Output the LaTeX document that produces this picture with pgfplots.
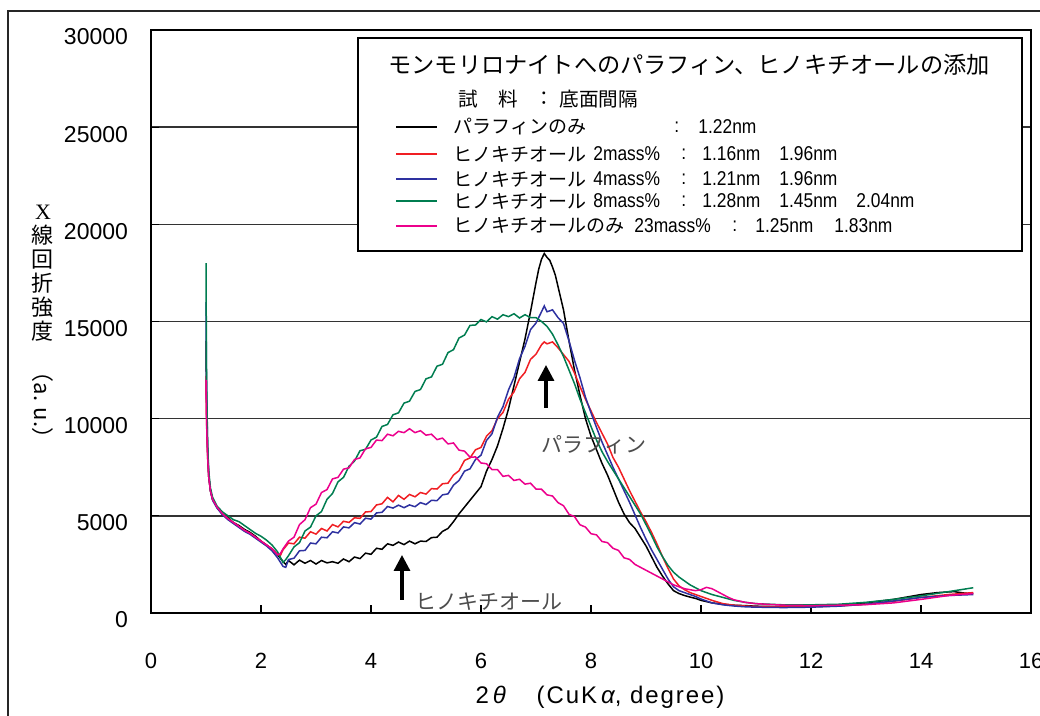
\documentclass[border=0pt]{standalone}
\usepackage{fontspec}
\usepackage{pgfplots}
\pgfplotsset{compat=1.18}
\usetikzlibrary{arrows.meta}
\setmainfont{Liberation Sans}
\newfontfamily\cjk{Noto Sans CJK JP}
\newfontfamily\nar[FakeStretch=0.87]{Liberation Sans}
\newfontfamily\serifx{Liberation Serif}
\newfontfamily\xlab[LetterSpace=8]{Liberation Sans}
\definecolor{cred}{RGB}{240,30,35}
\definecolor{cblue}{RGB}{46,49,160}
\definecolor{cgreen}{RGB}{0,125,80}
\definecolor{cmag}{RGB}{236,0,140}
\begin{document}
\begin{tikzpicture}
\begin{axis}[
  at={(75.5pt,-306.5pt)}, anchor=south west,
  scale only axis, width=440pt, height=291.5pt,
  xmin=0, xmax=16, ymin=0, ymax=30000,
  xtick={0,2,...,16}, ytick={0,5000,...,30000},
  xtick pos=bottom, ytick pos=left,
  tick align=inside, major tick length=4pt,
  ymajorgrids, grid style={black!80, line width=0.8pt},
  axis line style={line width=0.8pt},
  tick style={black, line width=0.6pt},
  scaled y ticks=false,
  /pgf/number format/assume math mode=true,
  yticklabel style={/pgf/number format/fixed, /pgf/number format/1000 sep={}, font=\fontsize{11.5}{13}\selectfont, xshift=-8pt, yshift=-3.5pt},
  xticklabel style={font=\fontsize{11}{13}\selectfont, yshift=-16.5pt},
  xlabel={\xlab\fontsize{12}{14}\selectfont 2\,\textit{θ}\hspace{1.2em}(CuK\,\textit{α}, degree)},
  xlabel style={yshift=-2pt, xshift=4.5pt},
  clip=true,
  every axis plot/.append style={line width=0.75pt},
]
\addplot[black] table {
1.00 14000
1.01 10500
1.03 8200
1.05 7000
1.08 6300
1.12 5850
1.2 5450
1.3 5100
1.4 4900
1.5 4650
1.6 4500
1.7 4300
1.8 4150
1.9 3950
2.0 3700
2.1 3500
2.2 3300
2.3 3000
2.4 2650
2.45 2500
2.5 2700
2.6 2480
2.7 2720
2.8 2560
2.9 2700
3.0 2520
3.1 2700
3.2 2580
3.3 2640
3.4 2560
3.5 2780
3.6 2640
3.7 2880
3.8 2800
3.9 3080
4.0 3020
4.1 3330
4.2 3280
4.3 3560
4.4 3480
4.5 3650
4.6 3520
4.7 3700
4.8 3560
4.9 3700
5.0 3680
5.1 3880
5.2 3900
5.3 4200
5.4 4350
5.5 4700
5.6 5100
5.7 5450
5.8 5800
5.9 6150
6.0 6500
6.1 7300
6.2 7900
6.3 8600
6.4 9500
6.5 10500
6.6 11700
6.7 12900
6.8 14100
6.9 15500
7.0 17000
7.05 17700
7.1 18200
7.15 18500
7.2 18300
7.25 18150
7.3 17800
7.35 17400
7.4 16800
7.5 15600
7.6 14000
7.7 12500
7.8 11200
7.9 10000
8.0 9100
8.1 8400
8.2 7700
8.3 7100
8.4 6400
8.5 5700
8.6 5100
8.7 4650
8.8 4350
8.9 3900
9.0 3450
9.1 2900
9.2 2350
9.3 1900
9.4 1500
9.5 1150
9.6 1000
9.7 900
9.8 820
9.9 750
10.0 650
10.2 520
10.4 450
10.6 400
10.8 380
11.0 350
11.5 320
12.0 330
12.5 380
13.0 520
13.5 700
14.0 950
14.3 1050
14.6 1100
14.8 1020
14.95 1000
};
\addplot[cred] table {
1.00 12200
1.01 10000
1.03 8000
1.05 7000
1.08 6300
1.12 5850
1.2 5450
1.3 5100
1.4 4850
1.5 4650
1.6 4450
1.7 4250
1.8 4100
1.9 3900
2.0 3700
2.1 3500
2.2 3300
2.3 3000
2.35 2950
2.4 3250
2.5 3600
2.6 3560
2.7 3900
2.8 3850
2.9 4180
3.0 4060
3.1 4350
3.2 4220
3.3 4550
3.4 4430
3.5 4720
3.6 4660
3.7 4900
3.8 4870
3.9 5200
4.0 5220
4.1 5560
4.2 5620
4.3 5950
4.4 5720
4.5 6050
4.6 5850
4.7 6100
4.8 5980
4.9 6200
5.0 6120
5.1 6400
5.2 6380
5.3 6650
5.4 6680
5.5 7100
5.6 7320
5.7 7850
5.8 7980
5.9 8400
6.0 8520
6.1 9100
6.2 9380
6.3 10000
6.4 10320
6.5 11000
6.6 11380
6.7 12050
6.8 12380
6.9 13050
7.0 13320
7.1 13800
7.15 13950
7.2 13850
7.3 13950
7.4 13650
7.5 13300
7.6 12950
7.7 12350
7.8 11650
7.9 11000
8.0 10400
8.1 9800
8.2 9250
8.3 8700
8.4 8000
8.5 7500
8.6 6900
8.7 6300
8.8 5750
8.9 5200
9.0 4700
9.1 4150
9.2 3550
9.3 2900
9.4 2300
9.5 1750
9.6 1400
9.7 1200
9.8 1050
9.9 950
10.0 850
10.2 650
10.4 480
10.6 400
10.8 360
11.0 330
11.5 320
12.0 330
12.5 360
13.0 450
13.5 600
14.0 800
14.5 950
14.95 1050
};
\addplot[cblue] table {
1.00 16000
1.01 11500
1.03 8500
1.05 7100
1.08 6300
1.12 5800
1.2 5400
1.3 5050
1.4 4800
1.5 4600
1.6 4400
1.7 4200
1.8 4050
1.9 3850
2.0 3650
2.1 3450
2.2 3200
2.3 2850
2.4 2400
2.45 2350
2.5 2750
2.6 2820
2.7 3200
2.8 3220
2.9 3600
3.0 3560
3.1 3900
3.2 3870
3.3 4180
3.4 4120
3.5 4430
3.6 4380
3.7 4650
3.8 4580
3.9 4880
4.0 4830
4.1 5150
4.2 5180
4.3 5480
4.4 5400
4.5 5550
4.6 5420
4.7 5560
4.8 5470
4.9 5680
5.0 5580
5.1 5800
5.2 5780
5.3 6080
5.4 6130
5.5 6580
5.6 6820
5.7 7300
5.8 7420
5.9 7900
6.0 8120
6.1 8880
6.2 9220
6.3 10080
6.4 10620
6.5 11480
6.6 12120
6.7 13080
6.8 13720
6.9 14580
7.0 14920
7.1 15500
7.15 15800
7.2 15500
7.3 15600
7.4 15200
7.5 14900
7.6 14000
7.7 13000
7.8 12100
7.9 11100
8.0 10300
8.1 9550
8.2 8800
8.3 8150
8.4 7500
8.5 6900
8.6 6300
8.7 5700
8.8 5050
8.9 4400
9.0 3800
9.1 3250
9.2 2750
9.3 2250
9.4 1750
9.5 1350
9.6 1150
9.7 1050
9.8 950
9.9 850
10.0 720
10.2 520
10.4 420
10.6 360
10.8 320
11.0 300
11.5 280
12.0 300
12.5 350
13.0 450
13.5 620
14.0 800
14.5 900
14.95 950
};
\addplot[cgreen] table {
1.00 18000
1.01 12000
1.03 8600
1.05 7300
1.08 6450
1.12 5950
1.2 5500
1.3 5200
1.4 5000
1.5 4800
1.6 4700
1.7 4500
1.8 4300
1.9 4100
2.0 3950
2.1 3750
2.2 3500
2.3 3150
2.4 2600
2.45 2750
2.5 2950
2.6 3400
2.7 3620
2.8 4220
2.9 4420
3.0 5000
3.1 5220
3.2 5850
3.3 6150
3.4 6750
3.5 6980
3.6 7550
3.7 7820
3.8 8350
3.9 8420
4.0 8900
4.1 9050
4.2 9600
4.3 9700
4.4 10200
4.5 10300
4.6 10800
4.7 10900
4.8 11400
4.9 11500
5.0 12050
5.1 12150
5.2 12700
5.3 12800
5.4 13400
5.5 13550
5.6 14150
5.7 14300
5.8 14800
5.9 14820
6.0 15100
6.1 14980
6.2 15250
6.3 15120
6.4 15350
6.5 15250
6.6 15400
6.7 15180
6.8 15350
6.9 15200
7.0 15200
7.1 15000
7.2 14750
7.3 14350
7.4 13800
7.5 13200
7.6 12500
7.7 11800
7.8 11000
7.9 10300
8.0 9600
8.1 8900
8.2 8300
8.3 7800
8.4 7350
8.5 6900
8.6 6450
8.7 6000
8.8 5550
8.9 5100
9.0 4550
9.1 4000
9.2 3400
9.3 2900
9.4 2450
9.5 2100
9.6 1850
9.7 1650
9.8 1450
9.9 1300
10.0 1150
10.2 950
10.4 800
10.6 650
10.8 550
11.0 480
11.5 420
12.0 420
12.5 450
13.0 550
13.5 700
14.0 880
14.5 1100
14.95 1300
};
\addplot[cmag] table {
1.00 12000
1.01 9800
1.03 8000
1.05 7000
1.08 6300
1.12 5850
1.2 5450
1.3 5100
1.4 4850
1.5 4650
1.6 4450
1.7 4250
1.8 4100
1.9 3900
2.0 3700
2.1 3500
2.2 3300
2.3 3000
2.35 3050
2.4 3300
2.5 3700
2.6 3900
2.7 4550
2.8 4800
2.9 5420
3.0 5600
3.1 6200
3.2 6350
3.3 6900
3.4 6980
3.5 7400
3.6 7470
3.7 7900
3.8 7980
3.9 8450
4.0 8520
4.1 8900
4.2 8870
4.3 9200
4.4 9120
4.5 9350
4.6 9280
4.7 9480
4.8 9280
4.9 9380
5.0 9150
5.1 9200
5.2 8920
5.3 9000
5.4 8700
5.5 8750
5.6 8380
5.7 8330
5.8 8020
5.9 8030
6.0 7720
6.1 7680
6.2 7380
6.3 7380
6.4 7030
6.5 7080
6.6 6820
6.7 6880
6.8 6630
6.9 6680
7.0 6380
7.1 6370
7.2 6080
7.3 6020
7.4 5680
7.5 5520
7.6 5080
7.7 4960
7.8 4540
7.9 4420
8.0 4080
8.1 4020
8.2 3680
8.3 3620
8.4 3330
8.5 3220
8.6 2840
8.7 2760
8.8 2500
8.9 2350
9.0 2200
9.1 2050
9.2 1900
9.3 1750
9.4 1600
9.5 1450
9.6 1350
9.7 1250
9.8 1200
9.9 1150
10.0 1200
10.1 1320
10.2 1250
10.3 1100
10.4 950
10.5 800
10.6 680
10.8 550
11.0 480
11.5 400
12.0 380
12.5 400
13.0 430
13.5 520
14.0 700
14.5 900
14.95 1000
};
\end{axis}
\begin{scope}[x=0.5pt,y=-0.5pt]
% outer frame
\draw[line width=1pt, black!85] (8,716) -- (8,11) -- (1040,11);
% y label
\node[anchor=north, align=center, inner sep=0pt, font=\cjk\fontsize{11}{12}\selectfont] at (43,205) {{\serifx X}\\線\\回\\折\\強\\度};
\node[rotate=-90, inner sep=0pt, font=\cjk\fontsize{11}{12}\selectfont] at (43,405) {（a. u.）};
% legend box
\draw[line width=0.8pt, fill=white] (358,38) rectangle (1022,251);
\node[anchor=west, inner sep=0pt, font=\cjk\fontsize{11.6}{13}\selectfont] at (388,65) {モンモリロナイトへのパラフィン、ヒノキチオールの添加};
\begin{scope}[every node/.style={anchor=west, inner sep=0pt, font=\cjk\fontsize{9.8}{12}\selectfont}]
\node at (458,99) {試};
\node at (498,99) {料};
\node at (534,99) {：};
\node at (559,99) {底面間隔};
\draw[black, line width=0.8pt] (396,127) -- (437,127);
\draw[cred, line width=0.8pt] (396,154) -- (437,154);
\draw[cblue, line width=0.8pt] (396,179) -- (437,179);
\draw[cgreen, line width=0.8pt] (396,201) -- (437,201);
\draw[cmag, line width=0.8pt] (396,226) -- (437,226);
\node[font=\cjk\fontsize{9.5}{12}\selectfont] at (453,127) {パラフィンのみ};
\node[font=\cjk\fontsize{9.5}{12}\selectfont] at (453,154) {ヒノキチオール};
\node[font=\cjk\fontsize{9.5}{12}\selectfont] at (453,179) {ヒノキチオール};
\node[font=\cjk\fontsize{9.5}{12}\selectfont] at (453,201) {ヒノキチオール};
\node[font=\cjk\fontsize{9.5}{12}\selectfont] at (453,226) {ヒノキチオールのみ};
\node[font=\nar\fontsize{10}{12}\selectfont] at (593,154) {2mass\%};
\node[font=\nar\fontsize{10}{12}\selectfont] at (593,179) {4mass\%};
\node[font=\nar\fontsize{10}{12}\selectfont] at (593,201) {8mass\%};
\node[font=\nar\fontsize{10}{12}\selectfont] at (634,226) {23mass\%};
\node[font=\nar\fontsize{10}{12}\selectfont] at (674,127) {:};
\node[font=\nar\fontsize{10}{12}\selectfont] at (681,154) {:};
\node[font=\nar\fontsize{10}{12}\selectfont] at (681,179) {:};
\node[font=\nar\fontsize{10}{12}\selectfont] at (681,201) {:};
\node[font=\nar\fontsize{10}{12}\selectfont] at (732,226) {:};
\node[font=\nar\fontsize{10}{12}\selectfont] at (698,127) {1.22nm};
\node[font=\nar\fontsize{10}{12}\selectfont] at (702,154) {1.16nm};
\node[font=\nar\fontsize{10}{12}\selectfont] at (779,154) {1.96nm};
\node[font=\nar\fontsize{10}{12}\selectfont] at (702,179) {1.21nm};
\node[font=\nar\fontsize{10}{12}\selectfont] at (779,179) {1.96nm};
\node[font=\nar\fontsize{10}{12}\selectfont] at (702,201) {1.28nm};
\node[font=\nar\fontsize{10}{12}\selectfont] at (779,201) {1.45nm};
\node[font=\nar\fontsize{10}{12}\selectfont] at (856,201) {2.04nm};
\node[font=\nar\fontsize{10}{12}\selectfont] at (755,226) {1.25nm};
\node[font=\nar\fontsize{10}{12}\selectfont] at (834,226) {1.83nm};
\end{scope}
% annotations
\draw[line width=1.6pt, -{Triangle[width=8pt,length=8pt]}] (402,600) -- (402,555);
\node[anchor=west, inner sep=0pt, text=black!70, font=\cjk\fontsize{10.5}{12}\selectfont] at (415,602) {ヒノキチオール};
\draw[line width=1.6pt, -{Triangle[width=8pt,length=8pt]}] (546,408) -- (546,365);
\node[anchor=west, inner sep=0pt, text=black!70, font=\cjk\fontsize{10.5}{12}\selectfont] at (541,445) {パラフィン};
\end{scope}
\pgfresetboundingbox
\begin{scope}[x=0.5pt,y=-0.5pt]
\path[use as bounding box] (0,0) rectangle (1040,716);
\end{scope}
\end{tikzpicture}
\end{document}
